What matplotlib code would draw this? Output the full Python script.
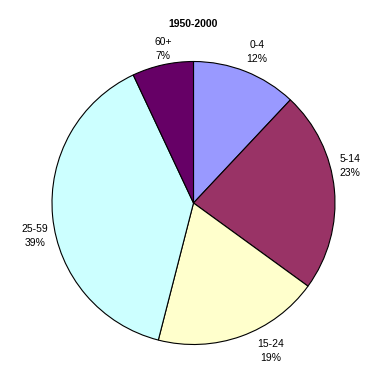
import numpy as np
import matplotlib
matplotlib.use("Agg")
import matplotlib.pyplot as plt

# données
groupes = ["0-4", "5-14", "15-24", "25-59", "60+"]
parts = [12, 23, 19, 39, 7]
couleurs = ["#9999FF", "#993366", "#FFFFCC", "#CCFFFF", "#660066"]
titre = "1950-2000"

# placement des étiquettes (distance au centre, décalage d'angle en degrés)
pos_etiquettes = [(1.16, -1.1), (1.137, 7.9), (1.177, 7.8), (1.144, 6.4), (1.106, -1.5)]

plt.rcParams["font.family"] = ["Liberation Sans", "DejaVu Sans"]

fig = plt.figure(figsize=(3.9, 3.9), dpi=100)
ax = fig.add_axes([(193.5 - 141.5) / 390, (187 - 141.5) / 390, 283 / 390, 283 / 390])

wedges, _ = ax.pie(parts, colors=couleurs, startangle=90, counterclock=False,
                   wedgeprops=dict(edgecolor="black", linewidth=0.8))

for w, g, p, (d, da) in zip(wedges, groupes, parts, pos_etiquettes):
    ang = np.deg2rad((w.theta1 + w.theta2) / 2 + da)
    ax.text(d * np.cos(ang), d * np.sin(ang), f"{g}\n{p}%", ha="center", va="center",
            fontsize=7.5, linespacing=1.5)

ax.set_xlim(-1, 1)
ax.set_ylim(-1, 1)
ax.set_aspect("equal")

fig.text(193 / 390, 1 - 24 / 390, titre, ha="center", va="center",
         fontsize=7.5, fontweight="bold")

fig.savefig("out.png", dpi=100)
